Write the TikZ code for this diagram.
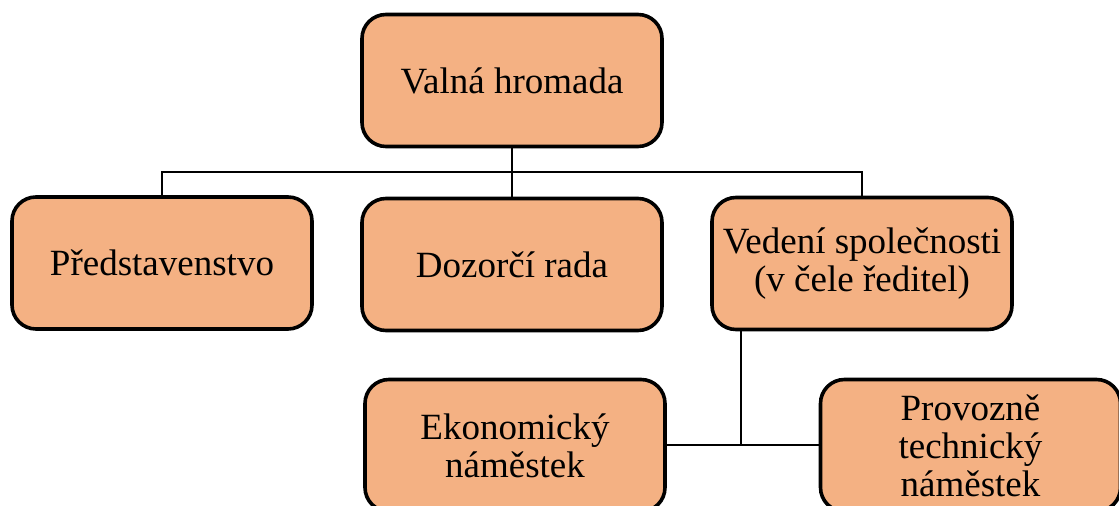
\documentclass[tikz,border=0pt]{standalone}
\usepackage{fontspec}
\setmainfont{Liberation Serif}
\definecolor{boxfill}{RGB}{244,177,131}
\begin{document}
\begin{tikzpicture}[x=0.5pt,y=-0.5pt,
  orgbox/.style={draw=black, line width=1.8pt, fill=boxfill, rounded corners=12pt,
    minimum width=150pt, minimum height=66pt, align=center, inner sep=2pt,
    font=\fontsize{18.5}{19}\selectfont},
  conn/.style={draw=black, line width=1pt}]
\useasboundingbox (0,0) rectangle (1119,506);
\node[orgbox] (top) at (512,80.5) {Valná hromada};
\node[orgbox] (pred) at (162,263) {Představenstvo};
\node[orgbox] (doz) at (512,264.5) {Dozorčí rada};
\node[orgbox] (ved) at (862,263.5) {Vedení společnosti\\(v čele ředitel)};
\node[orgbox] (ekon) at (515,445.5) {Ekonomický\\náměstek};
\node[orgbox] (prov) at (970.5,445.5) {Provozně\\technický\\náměstek};
\coordinate (bus) at (512,172);
\coordinate (vtop) at (741,331);
\draw[conn] (top.south) -- (bus);
\draw[conn] (pred.north) |- (bus) -| (ved.north);
\draw[conn] (doz.north) -- (bus);
\draw[conn] (vtop) -- (vtop |- ekon.east);
\draw[conn] (ekon.east) -- (prov.west);
\end{tikzpicture}
\end{document}
